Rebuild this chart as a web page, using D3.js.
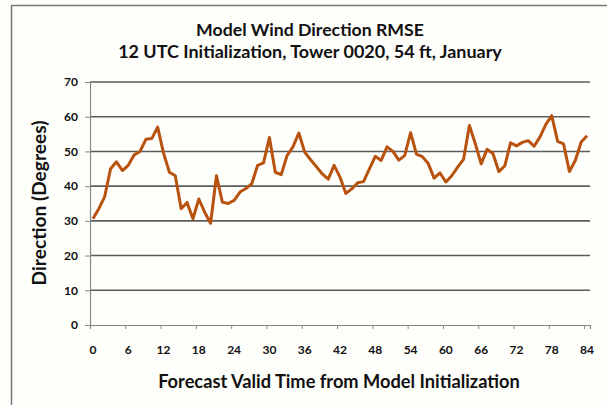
<!DOCTYPE html>
<html>
<head>
<meta charset="utf-8">
<script src="https://cdn.jsdelivr.net/npm/d3@7"></script>
<style>
  body { margin: 0; background: #fefefb; }
  text { font-family: Lato, "Open Sans", sans-serif; font-weight: bold; fill: #111; }
</style>
</head>
<body>
<div id="chart"></div>
<script>
// forecast hour 0..84, RMSE in degrees
var hours = d3.range(0, 85);
var rmse = [30.6, 33.5, 37, 45, 47, 44.5, 46, 49, 50, 53.5,
            53.7, 57, 49.5, 44, 43, 33.5, 35.3, 30.6, 36.3, 32.5,
            29.3, 43, 35.4, 35, 35.9, 38.3, 39.3, 40.7, 46, 46.7,
            54, 44, 43.3, 48.8, 51.3, 55.3, 49.8, 47.6, 45.6, 43.5,
            42, 46, 42.6, 37.9, 39.2, 41, 41.3, 45, 48.6, 47.4,
            51.3, 50, 47.5, 48.8, 55.4, 49.2, 48.5, 46.5, 42.3, 43.8,
            41.2, 43, 45.5, 47.7, 57.5, 52.2, 46.4, 50.6, 49.4, 44.2,
            45.8, 52.5, 51.6, 52.6, 53.1, 51.5, 54.2, 57.8, 60.3, 52.9,
            52.2, 44.2, 47.4, 52.7, 54.5];
var xLabels = [0, 6, 12, 18, 24, 30, 36, 42, 48, 54, 60, 66, 72, 78, 84];
var yTicks = [0, 10, 20, 30, 40, 50, 60, 70];

var W = 607, H = 405;
var svg = d3.select("#chart").append("svg")
    .attr("width", W).attr("height", H);

// chart frame (scanned image shows only top + left edge)
svg.append("path")
    .attr("d", "M11.5,405 V5.5 H607")
    .attr("fill", "none").attr("stroke", "#777").attr("stroke-width", 1.5);

// categories sit between tick marks, like an Excel category axis
var x = d3.scaleLinear().domain([-0.5, 84.5]).range([90, 590]);
var y = d3.scaleLinear().domain([0, 70]).range([325, 82]);

// gridlines
svg.append("g").selectAll("line")
    .data(yTicks.filter(function(d) { return d > 0; }))
  .enter().append("line")
    .attr("x1", x(-0.5)).attr("x2", x(84.5))
    .attr("y1", function(d) { return y(d); })
    .attr("y2", function(d) { return y(d); })
    .attr("stroke", "#5c5c5c").attr("stroke-width", 1.6);

// y axis
var yAxis = svg.append("g")
    .attr("transform", "translate(" + x(-0.5) + ",0)")
    .call(d3.axisLeft(y).tickValues(yTicks).tickSize(5).tickPadding(7));
yAxis.select(".domain").attr("stroke", "#888").attr("stroke-width", 1.2);
yAxis.selectAll(".tick line").attr("stroke", "#888");
yAxis.selectAll("text").style("font-size", "12px")
    .style("font-family", "Lato, sans-serif").style("font-weight", "bold");

// x axis: tick marks on category boundaries, labels on categories
var xAxis = svg.append("g")
    .attr("transform", "translate(0," + y(0) + ")")
    .call(d3.axisBottom(x).tickValues(xLabels.map(function(d) { return d - 0.5; }))
      .tickSize(4).tickFormat(""));
xAxis.select(".domain").attr("stroke", "#888").attr("stroke-width", 1.2);
xAxis.selectAll(".tick line").attr("stroke", "#888");

svg.append("g").selectAll("text")
    .data(xLabels)
  .enter().append("text")
    .attr("x", function(d) { return x(d); })
    .attr("y", 354)
    .attr("text-anchor", "middle")
    .style("font-size", "12px")
    .text(function(d) { return d; });

// series line
var line = d3.line()
    .x(function(d, i) { return x(hours[i]); })
    .y(function(d) { return y(d); });

svg.append("path")
    .datum(rmse)
    .attr("d", line)
    .attr("fill", "none")
    .attr("stroke", "#b8520f")
    .attr("stroke-width", 3)
    .attr("stroke-linejoin", "round");

// titles, sized to match the width they take in the picture
function fitText(sel, width) {
  var w = sel.node().getComputedTextLength();
  var fs = parseFloat(sel.style("font-size"));
  sel.style("font-size", (fs * width / w) + "px");
}

var t1 = svg.append("text").attr("x", 310).attr("y", 36)
    .attr("text-anchor", "middle").style("font-size", "15px")
    .text("Model Wind Direction RMSE");
fitText(t1, 228);
var t2 = svg.append("text").attr("x", 310).attr("y", 58)
    .attr("text-anchor", "middle").style("font-size", "15px")
    .text("12 UTC Initialization, Tower 0020, 54 ft, January");
fitText(t2, 384);

var xt = svg.append("text").attr("x", 339).attr("y", 388)
    .attr("text-anchor", "middle").style("font-size", "16px")
    .text("Forecast Valid Time from Model Initialization");
fitText(xt, 362);

var yt = svg.append("text")
    .attr("transform", "translate(46,203) rotate(-90)")
    .attr("text-anchor", "middle").style("font-size", "15px")
    .text("Direction (Degrees)");
fitText(yt, 165);
</script>
</body>
</html>
